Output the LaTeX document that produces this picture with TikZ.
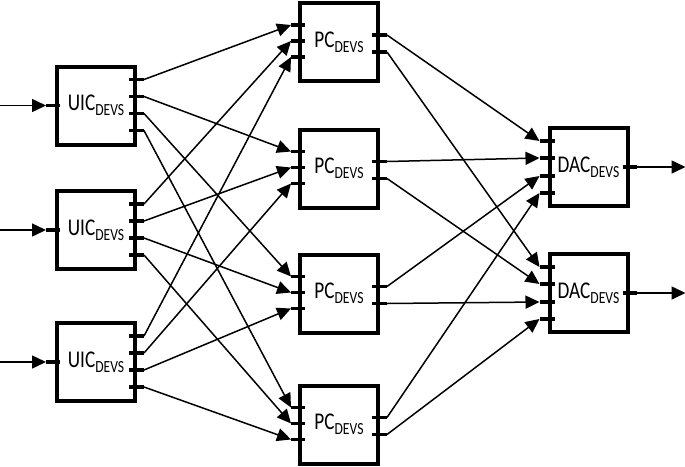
\documentclass[tikz,border=0pt]{standalone}
\usepackage{fontspec}
\newfontfamily\lblfont{Carlito}[FakeStretch=0.8]
\usetikzlibrary{arrows.meta,calc}
\newcommand{\devslabel}[1]{{\lblfont\fontsize{24}{26}\selectfont #1\raisebox{-5pt}{\fontsize{17}{18}\selectfont DEVS}}}
\begin{document}
\begin{tikzpicture}[x=1pt,y=-1pt,
  box/.style={draw, line width=4pt, minimum width=78pt, minimum height=78pt, inner sep=0pt},
  porttick/.style={line width=3.8pt},
  conn/.style={line width=1.5pt, -{Triangle[length=14pt,width=13pt]}}]
\useasboundingbox (0,0) rectangle (685,466);

% boxes
\node[box] (u1) at (96,105.5) {\devslabel{UIC}};
\node[box] (u2) at (96,230) {\devslabel{UIC}};
\node[box] (u3) at (96,362) {\devslabel{UIC}};
\node[box] (p1) at (339,42) {\devslabel{PC}};
\node[box] (p2) at (339,168.5) {\devslabel{PC}};
\node[box] (p3) at (339,293.5) {\devslabel{PC}};
\node[box] (p4) at (339,424.5) {\devslabel{PC}};
\node[box] (d1) at (588.5,167) {\devslabel{DAC}};
\node[box] (d2) at (588.5,293) {\devslabel{DAC}};

% UIC ports
\foreach \i in {1,2,3} {
  \coordinate (u\i-in) at ($(u\i.west)+(-9,0)$);
  \coordinate (u\i-src) at ($(u\i.west)+(-57,0)$);
  \draw[porttick] (u\i-in) -- ($(u\i.west)+(5,0)$);
  \foreach \j/\o in {1/-26,2/-9,3/8,4/25} {
    \coordinate (u\i-o\j) at ($(u\i.east)+(7,\o)$);
    \draw[porttick] ($(u\i.east)+(-8,\o)$) -- (u\i-o\j);
  }
}
% PC ports
\foreach \i in {1,2,3,4} {
  \foreach \j/\o in {1/-17,2/-1,3/15} {
    \coordinate (p\i-in\j) at ($(p\i.west)+(-7,\o)$);
    \draw[porttick] (p\i-in\j) -- ($(p\i.west)+(7,\o)$);
  }
  \foreach \j/\o in {1/-7,2/10} {
    \coordinate (p\i-o\j) at ($(p\i.east)+(7,\o)$);
    \draw[porttick] ($(p\i.east)+(-8,\o)$) -- (p\i-o\j);
  }
}
% DAC ports
\foreach \i in {1,2} {
  \foreach \j/\o in {1/-26,2/-9,3/9,4/26} {
    \coordinate (d\i-in\j) at ($(d\i.west)+(-8,\o)$);
    \draw[porttick] (d\i-in\j) -- ($(d\i.west)+(7,\o)$);
  }
  \coordinate (d\i-out) at ($(d\i.east)+(7,0)$);
  \coordinate (d\i-dst) at ($(d\i.east)+(56,0)$);
  \draw[porttick] ($(d\i.east)+(-7,0)$) -- (d\i-out);
}

% connectors
\foreach \i in {1,2,3} {
  \draw[conn] (u\i-src) -- (u\i-in);
  \foreach \j in {1,2,3,4} {
    \draw[conn] (u\i-o\j) -- (p\j-in\i);
  }
}
\foreach \i in {1,2,3,4} {
  \foreach \j in {1,2} {
    \draw[conn] (p\i-o\j) -- (d\j-in\i);
  }
}
\foreach \i in {1,2} {
  \draw[conn] (d\i-out) -- (d\i-dst);
}
\end{tikzpicture}
\end{document}
